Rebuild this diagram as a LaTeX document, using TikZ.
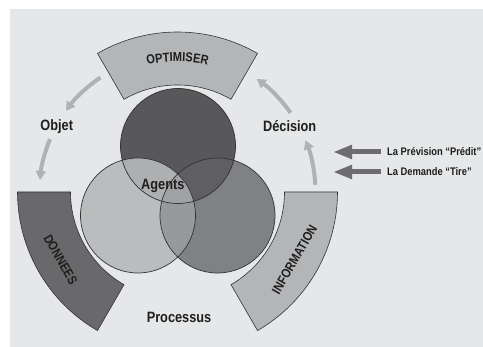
\documentclass[tikz,border=0pt]{standalone}
\usepackage{fontspec}
\setmainfont{Liberation Sans}
\newfontfamily\labfont[FakeStretch=0.85]{Liberation Sans Bold}
\usetikzlibrary{arrows.meta,calc,decorations.text}
\definecolor{bg}{HTML}{E6E7E8}
\definecolor{ctop}{HTML}{58585A}
\definecolor{cleft}{HTML}{BBBCBE}
\definecolor{cright}{HTML}{808183}
\definecolor{ctl}{HTML}{AEAFB1}
\definecolor{ctr}{HTML}{5F5F61}
\definecolor{clr}{HTML}{98999B}
\definecolor{cmid}{HTML}{A1A2A4}
\definecolor{bandlight}{HTML}{B4B5B7}
\definecolor{banddark}{HTML}{69696B}
\definecolor{bandline}{HTML}{333333}
\definecolor{arrowgray}{HTML}{B0B1B3}
\definecolor{sidegray}{HTML}{6D6D6F}
\definecolor{txt}{HTML}{1E1E1E}
\tikzset{
  band/.style={draw=bandline,line width=0.6pt,line join=miter},
  venn/.style={draw=bandline,line width=0.7pt},
  arcarrow/.style={draw=arrowgray,line width=4pt,-{Triangle[width=10pt,length=9pt]}},
  sidearrow/.style={draw=sidegray,line width=5pt,-{Triangle[width=13pt,length=19pt]}},
  biglabel/.style={font=\labfont\fontsize{15}{15}\selectfont,text=txt,inner sep=0pt,anchor=base},
  sidelabel/.style={font=\labfont\fontsize{11}{11}\selectfont,text=txt,inner sep=0pt,anchor=base west},
  bandlabel/.style={font=\labfont\fontsize{13}{13}\selectfont,text=txt,inner sep=0pt},
  bandtext/.style={decorate,decoration={text along path,text align=center,
     text={|\labfont\fontsize{13}{13}\selectfont\color{txt}|#1}}}
}
\begin{document}
\begin{tikzpicture}[x=1pt,y=1pt]
\useasboundingbox (0,0) rectangle (483,347);
\fill[bg] (10,0) rectangle (483,338);
\coordinate (C) at (177.5,155);
% bands
\filldraw[band,fill=bandlight] ($(C)+(60:107pt)$) arc[start angle=60,end angle=120,radius=107pt]
  -- ($(C)+(120:160pt)$) arc[start angle=120,end angle=60,radius=160pt] -- cycle;
\filldraw[band,fill=banddark] ($(C)+(180:107pt)$) arc[start angle=180,end angle=240,radius=107pt]
  -- ($(C)+(240:160pt)$) arc[start angle=240,end angle=180,radius=160pt] -- cycle;
\filldraw[band,fill=bandlight] ($(C)+(300:107pt)$) arc[start angle=300,end angle=360,radius=107pt]
  -- ($(C)+(360:160pt)$) arc[start angle=360,end angle=300,radius=160pt] -- cycle;
% band texts
\path[bandtext=OPTIMISER] ($(C)+(120:130.5pt)$) arc[start angle=120,end angle=60,radius=130.5pt];
\node[bandlabel,rotate=-60] (donnees) at ($(C)+(210:135pt)$) {DONNEES};
\node[bandlabel,rotate=60] (information) at ($(C)+(330:135pt)$) {INFORMATION};
% venn circles
\coordinate (T) at (178,201);
\coordinate (L) at (138,131.5);
\coordinate (R) at (217.5,131.5);
\def\vr{57.5pt}
\fill[cleft] (L) circle[radius=\vr];
\fill[cright] (R) circle[radius=\vr];
\fill[ctop] (T) circle[radius=\vr];
\begin{scope}\clip (T) circle[radius=\vr]; \fill[ctl] (L) circle[radius=\vr]; \fill[ctr] (R) circle[radius=\vr];\end{scope}
\begin{scope}\clip (L) circle[radius=\vr]; \fill[clr] (R) circle[radius=\vr];\end{scope}
\begin{scope}\clip (L) circle[radius=\vr]; \clip (R) circle[radius=\vr]; \fill[cmid] (T) circle[radius=\vr];\end{scope}
\draw[venn] (T) circle[radius=\vr];
\draw[venn] (L) circle[radius=\vr];
\draw[venn] (R) circle[radius=\vr];
% cycle arrows
\draw[arcarrow] ($(C)+(124:138pt)$) arc[start angle=124,end angle=144,radius=138pt];
\draw[arcarrow] ($(C)+(157.5:138pt)$) arc[start angle=157.5,end angle=175,radius=138pt];
\draw[arcarrow] ($(C)+(3:138pt)$) arc[start angle=3,end angle=22,radius=138pt];
\draw[arcarrow] ($(C)+(35:138pt)$) arc[start angle=35,end angle=55,radius=138pt];
% labels
\node[biglabel] (objet) at (56.7,216) {Objet};
\node[biglabel] (decision) at (289.7,215.8) {Décision};
\node[biglabel] (processus) at (179,24.6) {Processus};
\node[biglabel] (agents) at (162.8,157.8) {Agents};
% side arrows
\node[sidelabel] (prev) at (387,191) {La Prévision “Prédit”};
\node[sidelabel] (dem) at (387,171) {La Demande “Tire”};
\coordinate (prevtip) at (333,195);
\coordinate (demtip) at (333,175);
\draw[sidearrow] ($(prev.base west)+(-6,4)$) -- (prevtip);
\draw[sidearrow] ($(dem.base west)+(-6,4)$) -- (demtip);
\end{tikzpicture}
\end{document}
